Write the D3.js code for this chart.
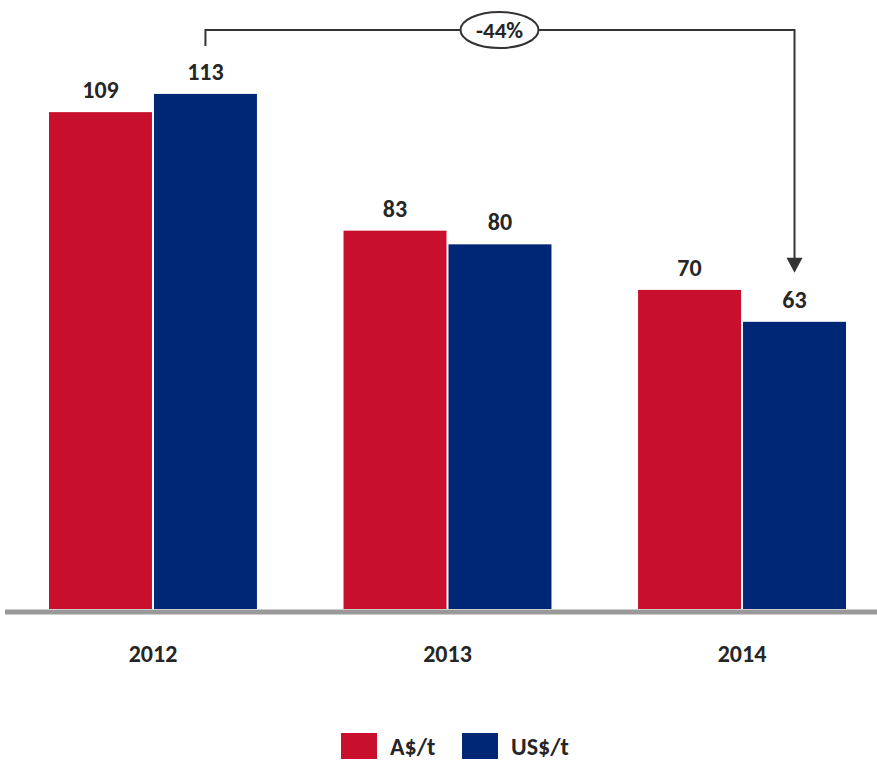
<!DOCTYPE html>
<html>
<head>
  <meta charset="utf-8">
  <script src="https://d3js.org/d3.v7.min.js"></script>
  <style>
    body { margin: 0; background: #fff; }
    svg { display: block; font-family: Calibri, Carlito, Lato, sans-serif; }
    .value_label, .year_label, .legend_label, .change_label {
      fill: #262626;
      font-weight: bold;
      text-anchor: middle;
    }
  </style>
  <title>A$/t vs US$/t</title>
</head>
<body>
  <svg></svg>
  <script>
    const years = ["2012", "2013", "2014"]
    const series = ["A$/t", "US$/t"]
    const audValues = [109, 83, 70]
    const usdValues = [113, 80, 63]
    const colors = ["#c8102e", "#002776"]
    const changeLabel = "-44%"

    const width = 877
    const height = 762

    const svg = d3.select("svg")
      .attr("width", width)
      .attr("height", height)

    const data = years.map((y, i) => ({
      year: y,
      values: [
        {series: series[0], value: audValues[i]},
        {series: series[1], value: usdValues[i]}
      ]
    }))

    const x0 = d3.scaleBand()
      .domain(years)
      .range([49, 846])
      .paddingInner(0.294)
      .paddingOuter(0)

    const x1 = d3.scaleBand()
      .domain(series)
      .range([0, x0.bandwidth()])
      .paddingInner(0.019)

    const yScale = d3.scaleLinear()
      .domain([0, 120])
      .range([609, 62])

    const color = d3.scaleOrdinal().domain(series).range(colors)

    const groups = svg.selectAll(".group")
      .data(data)
      .enter()
      .append("g")
      .attr("class", "group")
      .attr("transform", d => `translate(${x0(d.year)},0)`)

    groups.selectAll("rect")
      .data(d => d.values)
      .enter()
      .append("rect")
      .attr("x", d => x1(d.series))
      .attr("y", d => yScale(d.value))
      .attr("width", x1.bandwidth())
      .attr("height", d => yScale(0) - yScale(d.value))
      .attr("fill", d => color(d.series))

    groups.selectAll(".value_label")
      .data(d => d.values)
      .enter()
      .append("text")
      .attr("class", "value_label")
      .attr("x", d => x1(d.series) + x1.bandwidth() / 2)
      .attr("y", d => yScale(d.value) - 14)
      .style("font-size", "24px")
      .text(d => d.value)

    // baseline
    svg.append("line")
      .attr("x1", 5)
      .attr("x2", 877)
      .attr("y1", yScale(0) + 3)
      .attr("y2", yScale(0) + 3)
      .attr("stroke", "#999999")
      .attr("stroke-width", 5)

    svg.selectAll(".year_label")
      .data(years)
      .enter()
      .append("text")
      .attr("class", "year_label")
      .attr("x", d => x0(d) + x0.bandwidth() / 2)
      .attr("y", 662)
      .style("font-size", "24px")
      .text(d => d)

    // change bracket from 2012 US$ to 2014 US$
    const xa = x0(years[0]) + x1(series[1]) + x1.bandwidth() / 2
    const xb = x0(years[2]) + x1(series[1]) + x1.bandwidth() / 2
    const yTop = 30
    const yStart = yScale(usdValues[0]) - 48
    const yEnd = yScale(usdValues[2]) - 49

    svg.append("path")
      .attr("d", `M${xa},${yStart} V${yTop} H${xb} V${yEnd - 10}`)
      .attr("fill", "none")
      .attr("stroke", "#333333")
      .attr("stroke-width", 2)

    svg.append("path")
      .attr("d", `M${xb - 8},${yEnd - 15} L${xb + 8},${yEnd - 15} L${xb},${yEnd} Z`)
      .attr("fill", "#333333")

    const cx = 499.5
    svg.append("ellipse")
      .attr("cx", cx)
      .attr("cy", yTop)
      .attr("rx", 39)
      .attr("ry", 18)
      .attr("fill", "#ffffff")
      .attr("stroke", "#333333")
      .attr("stroke-width", 2)

    svg.append("text")
      .attr("class", "change_label")
      .attr("x", cx)
      .attr("y", yTop + 8)
      .style("font-size", "23px")
      .text(changeLabel)

    // legend
    const legend = svg.selectAll(".legend")
      .data(series)
      .enter()
      .append("g")
      .attr("class", "legend")
      .attr("transform", (d, i) => `translate(${341 + i * 121},733)`)

    legend.append("rect")
      .attr("width", 36)
      .attr("height", 26)
      .attr("fill", d => color(d))

    legend.append("text")
      .attr("class", "legend_label")
      .attr("x", 49)
      .attr("y", 22)
      .style("text-anchor", "start")
      .style("font-size", "24px")
      .text(d => d)
  </script>
</body>
</html>
